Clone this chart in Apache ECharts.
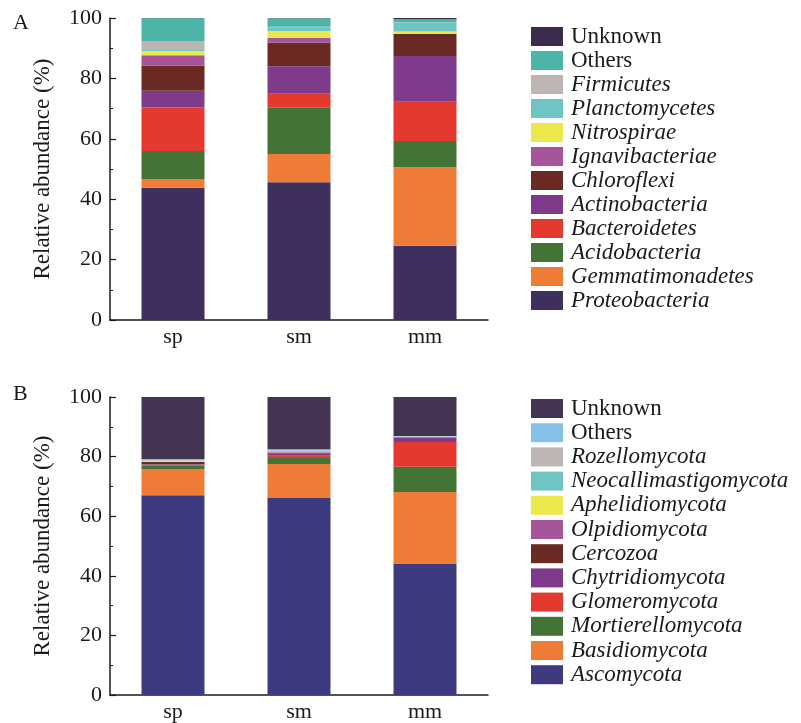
<!DOCTYPE html>
<html>
<head>
<meta charset="utf-8">
<title>Relative abundance of bacterial and fungal phyla</title>
<script src="https://cdn.jsdelivr.net/npm/echarts@6/dist/echarts.min.js"></script>
<style>
  html, body { margin: 0; padding: 0; background: #fff; }
  #chart { width: 801px; height: 723px; }
</style>
</head>
<body>
<div id="chart"></div>
<script>
// Sample groups
const categories = ['sp', 'sm', 'mm'];
const yTicks = [0, 20, 40, 60, 80, 100];

// Panel A: bacterial phyla (%), stacked bottom to top
const bacNames = ['Proteobacteria', 'Gemmatimonadetes', 'Acidobacteria', 'Bacteroidetes',
  'Actinobacteria', 'Chloroflexi', 'Ignavibacteriae', 'Nitrospirae', 'Planctomycetes',
  'Firmicutes', 'Others', 'Unknown'];
const proteobacteria   = [43.8, 45.6, 24.6];
const gemmatimonadetes = [2.9, 9.4, 26.0];
const acidobacteria    = [9.3, 15.3, 8.7];
const bacteroidetes    = [14.4, 4.6, 13.0];
const actinobacteria   = [5.5, 9.1, 15.1];
const chloroflexi      = [8.3, 7.8, 7.3];
const ignavibacteriae  = [3.5, 1.6, 0.1];
const nitrospirae      = [1.4, 2.3, 0.7];
const planctomycetes   = [0.3, 1.0, 2.9];
const firmicutes       = [2.8, 0.4, 0.1];
const bacOthers        = [7.7, 2.8, 1.1];
const bacUnknown       = [0.1, 0.1, 0.4];
const bacValues = [proteobacteria, gemmatimonadetes, acidobacteria, bacteroidetes,
  actinobacteria, chloroflexi, ignavibacteriae, nitrospirae, planctomycetes,
  firmicutes, bacOthers, bacUnknown];
const bacColors = ['#3e2f5e', '#ee7c37', '#437435', '#e3392f', '#7e3b8b', '#6a2a23',
  '#a6559b', '#ebe84c', '#6fc4c4', '#bcb5b3', '#4db5a7', '#3b2c4e'];

// Panel B: fungal phyla (%), stacked bottom to top
const funNames = ['Ascomycota', 'Basidiomycota', 'Mortierellomycota', 'Glomeromycota',
  'Chytridiomycota', 'Cercozoa', 'Olpidiomycota', 'Aphelidiomycota',
  'Neocallimastigomycota', 'Rozellomycota', 'Others', 'Unknown'];
const ascomycota         = [67.0, 66.1, 44.1];
const basidiomycota      = [8.8, 11.4, 24.0];
const mortierellomycota  = [1.1, 2.0, 8.5];
const glomeromycota      = [0.4, 0.8, 8.3];
const chytridiomycota    = [0.1, 0.8, 1.4];
const cercozoa           = [0.8, 0.1, 0.1];
const olpidiomycota      = [0.1, 0.3, 0.2];
const aphelidiomycota    = [0.3, 0.1, 0.0];
const neocallimastigomycota = [0.2, 0.3, 0.1];
const rozellomycota      = [0.2, 0.1, 0.1];
const funOthers          = [0.1, 0.5, 0.1];
const funUnknown         = [20.9, 17.5, 13.1];
const funValues = [ascomycota, basidiomycota, mortierellomycota, glomeromycota,
  chytridiomycota, cercozoa, olpidiomycota, aphelidiomycota, neocallimastigomycota,
  rozellomycota, funOthers, funUnknown];
const funColors = ['#3d3a7f', '#ee7c37', '#437435', '#e3392f', '#7e3b8b', '#6a2a23',
  '#a6559b', '#ebe84c', '#6fc4c4', '#bcb5b3', '#86c2e8', '#453352'];

const FONT = '"Liberation Serif", "DejaVu Serif", serif';
const INK = '#1a1a1a';

function xAxisFor(gridIndex) {
  return {
    type: 'category', gridIndex, data: categories,
    axisLine: { show: true, lineStyle: { color: INK, width: 1.5 } },
    axisTick: { show: true, inside: true, alignWithLabel: true, length: 5, lineStyle: { color: INK, width: 1.2 } },
    axisLabel: { color: INK, fontFamily: FONT, fontSize: 22, margin: 6 },
    splitLine: { show: false }
  };
}
function yAxisFor(gridIndex) {
  return {
    type: 'value', gridIndex, min: yTicks[0], max: yTicks[yTicks.length - 1],
    interval: yTicks[1] - yTicks[0],
    name: 'Relative abundance (%)', nameLocation: 'middle', nameGap: 56,
    nameTextStyle: { color: INK, fontFamily: FONT, fontSize: 23 },
    axisLine: { show: true, lineStyle: { color: INK, width: 1.5 } },
    axisTick: { show: true, inside: true, length: 6, lineStyle: { color: INK, width: 1.2 } },
    minorTick: { show: true, splitNumber: 2, length: 3, lineStyle: { color: INK, width: 1 } },
    axisLabel: { color: INK, fontFamily: FONT, fontSize: 22, margin: 8 },
    splitLine: { show: false }
  };
}

function seriesFor(names, values, colors, gridIndex, stack) {
  return names.map((name, i) => ({
    name, type: 'bar', stack,
    xAxisIndex: gridIndex, yAxisIndex: gridIndex,
    barWidth: '50%',
    itemStyle: { color: colors[i] },
    emphasis: { disabled: true },
    data: values[i]
  }));
}

function legendFor(names, colors, top, gap) {
  const items = names.map((name, i) => ({ name, itemStyle: { color: colors[i] } })).reverse();
  return {
    orient: 'vertical', left: 531, top, padding: 0,
    itemWidth: 32, itemHeight: 19, itemGap: gap,
    icon: 'rect', selectedMode: false,
    data: items,
    formatter: n => (n === 'Unknown' || n === 'Others') ? '{n|' + n + '}' : '{i|' + n + '}',
    textStyle: {
      lineHeight: 22,
      rich: {
        n: { fontFamily: FONT, fontSize: 23, color: INK, lineHeight: 22, padding: [0, 0, 0, 3] },
        i: { fontFamily: FONT, fontSize: 23, fontStyle: 'italic', color: INK, lineHeight: 22, padding: [0, 0, 0, 3] }
      }
    }
  };
}

const chart = echarts.init(document.getElementById('chart'), null, { renderer: 'canvas' });
chart.setOption({
  backgroundColor: '#ffffff',
  animation: false,
  grid: [
    { left: 110, right: 313, top: 18, height: 302 },
    { left: 110, right: 313, top: 397, height: 304 }
  ],
  xAxis: [xAxisFor(0), xAxisFor(1)],
  yAxis: [yAxisFor(0), yAxisFor(1)],
  legend: [
    legendFor(bacNames, bacColors, 25, 1),
    legendFor(funNames, funColors, 397, 1.2)
  ],
  graphic: [
    { type: 'text', left: 13, top: 12, style: { text: 'A', fontFamily: FONT, fontSize: 22, fill: INK } },
    { type: 'text', left: 13, top: 383, style: { text: 'B', fontFamily: FONT, fontSize: 22, fill: INK } }
  ],
  series: [
    ...seriesFor(bacNames, bacValues, bacColors, 0, 'bac'),
    ...seriesFor(funNames, funValues, funColors, 1, 'fun')
  ]
});
</script>
</body>
</html>
